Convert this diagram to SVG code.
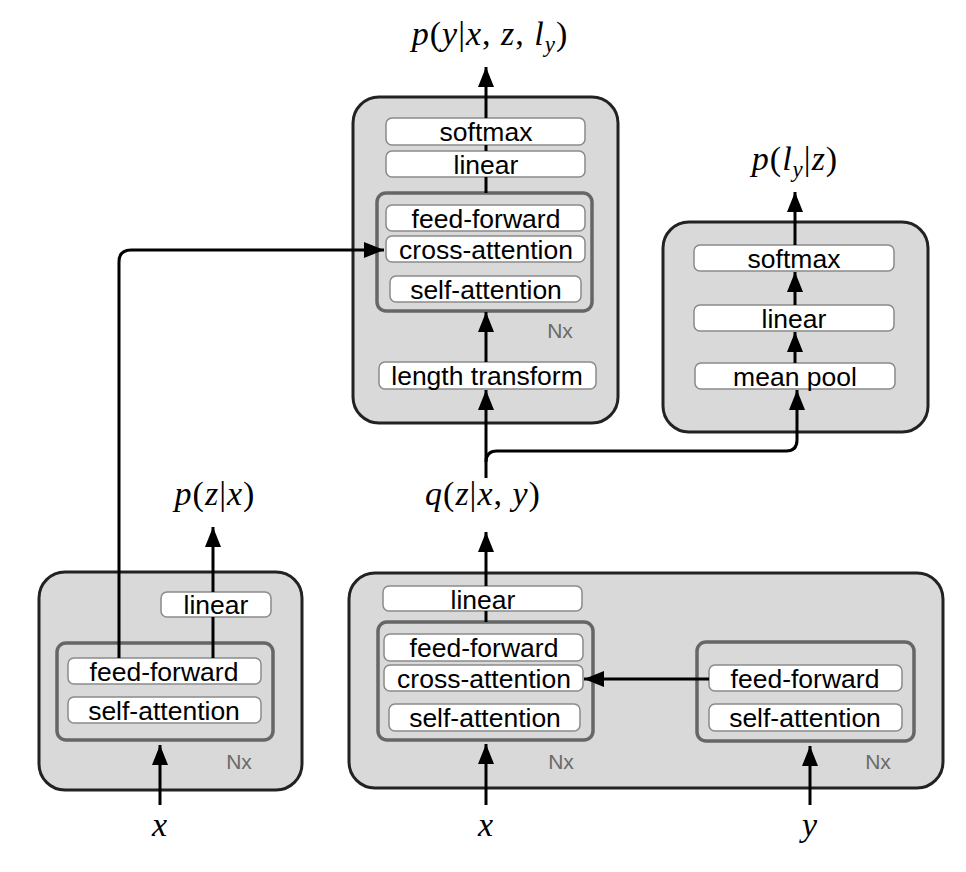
<svg xmlns="http://www.w3.org/2000/svg" width="966" height="872" viewBox="0 0 966 872">
<defs>
<marker id="ah" viewBox="0 0 20 16" refX="20" refY="8" markerWidth="20" markerHeight="16" markerUnits="userSpaceOnUse" orient="auto">
<path d="M0,0 L20,8 L0,16 Z" fill="#000"/>
</marker>
</defs>
<style>
.outer{fill:#d9d9d9;stroke:#222;stroke-width:3}
.nx{fill:none;stroke:#666;stroke-width:3.5}
.blk{fill:#fff;stroke:#8a8a8a;stroke-width:1.5}
.lbl{font-family:"Liberation Sans",Arial,sans-serif;font-size:26.5px;fill:#000;text-anchor:middle}
.nxt{font-family:"Liberation Sans",Arial,sans-serif;font-size:21px;fill:#6a6a6a;text-anchor:middle}
.math{font-family:"Liberation Serif","DejaVu Serif",serif;font-size:34px;fill:#000;text-anchor:middle;letter-spacing:1px}
.it{font-style:italic}
.conn{fill:none;stroke:#000;stroke-width:3}
</style>

<g id="decoder">
<rect class="outer" x="353" y="97" width="265" height="326" rx="26"/>
<rect class="nx" x="377" y="193" width="215" height="118" rx="9"/>
<rect class="blk" x="386" y="118" width="199" height="27" rx="6"/>
<text class="lbl" x="486" y="141">softmax</text>
<rect class="blk" x="386" y="151" width="199" height="26" rx="6"/>
<text class="lbl" x="486" y="174">linear</text>
<rect class="blk" x="386" y="205" width="199" height="26" rx="6"/>
<text class="lbl" x="486" y="228">feed-forward</text>
<rect class="blk" x="386" y="236" width="199" height="26" rx="6"/>
<text class="lbl" x="486" y="259">cross-attention</text>
<rect class="blk" x="390" y="276" width="191" height="26" rx="6"/>
<text class="lbl" x="486" y="299">self-attention</text>
<text class="nxt" x="560" y="338">Nx</text>
<rect class="blk" x="379" y="362" width="217" height="27" rx="6"/>
<text class="lbl" x="487" y="385">length transform</text>
</g>

<g id="length-predictor">
<rect class="outer" x="663" y="222" width="265" height="210" rx="26"/>
<rect class="blk" x="694" y="245" width="200" height="26" rx="6"/>
<text class="lbl" x="794" y="268">softmax</text>
<rect class="blk" x="694" y="305" width="200" height="26" rx="6"/>
<text class="lbl" x="794" y="328">linear</text>
<rect class="blk" x="695" y="363" width="200" height="26" rx="6"/>
<text class="lbl" x="795" y="386">mean pool</text>
</g>

<g id="prior">
<rect class="outer" x="39" y="572" width="263" height="218" rx="26"/>
<rect class="nx" x="57" y="643" width="216" height="97" rx="9"/>
<rect class="blk" x="161" y="592" width="110" height="25" rx="6"/>
<text class="lbl" x="216" y="614">linear</text>
<rect class="blk" x="68" y="658" width="193" height="26" rx="6"/>
<text class="lbl" x="164" y="681">feed-forward</text>
<rect class="blk" x="68" y="697" width="193" height="26" rx="6"/>
<text class="lbl" x="164" y="720">self-attention</text>
<text class="nxt" x="239" y="769">Nx</text>
</g>

<g id="posterior">
<rect class="outer" x="349" y="573" width="594" height="215" rx="26"/>
<rect class="nx" x="378" y="622" width="215" height="118" rx="9"/>
<rect class="blk" x="383" y="586" width="199" height="25" rx="6"/>
<text class="lbl" x="483" y="609">linear</text>
<rect class="blk" x="384" y="634" width="199" height="27" rx="6"/>
<text class="lbl" x="484" y="657">feed-forward</text>
<rect class="blk" x="384" y="665" width="199" height="26" rx="6"/>
<text class="lbl" x="484" y="688">cross-attention</text>
<rect class="blk" x="389" y="704" width="191" height="27" rx="6"/>
<text class="lbl" x="485" y="727">self-attention</text>
<text class="nxt" x="561" y="769">Nx</text>
<rect class="nx" x="697" y="642" width="217" height="99" rx="9"/>
<rect class="blk" x="709" y="665" width="193" height="26" rx="6"/>
<text class="lbl" x="805" y="688">feed-forward</text>
<rect class="blk" x="709" y="704" width="193" height="27" rx="6"/>
<text class="lbl" x="805" y="727">self-attention</text>
<text class="nxt" x="878" y="769">Nx</text>
</g>

<g id="labels">
<text class="math" x="490" y="45"><tspan class="it">p</tspan>(<tspan class="it">y</tspan>|<tspan class="it">x</tspan>, <tspan class="it">z</tspan>, <tspan class="it">l</tspan><tspan class="it" font-size="23" dy="7">y</tspan><tspan dy="-7">)</tspan></text>
<text class="math" x="795" y="170"><tspan class="it">p</tspan>(<tspan class="it">l</tspan><tspan class="it" font-size="23" dy="7">y</tspan><tspan dy="-7">|</tspan><tspan class="it">z</tspan>)</text>
<text class="math" x="215" y="505"><tspan class="it">p</tspan>(<tspan class="it">z</tspan>|<tspan class="it">x</tspan>)</text>
<text class="math" x="483" y="505"><tspan class="it">q</tspan>(<tspan class="it">z</tspan>|<tspan class="it">x</tspan>, <tspan class="it">y</tspan>)</text>
<text class="math it" x="160" y="836" font-size="44">x</text>
<text class="math it" x="486" y="836" font-size="44">x</text>
<text class="math it" x="810" y="836" font-size="44">y</text>
</g>

<g id="connectors">
<path class="conn" d="M486 177 V193 M486 145 V151" />
<path class="conn" d="M486 118 V67" marker-end="url(#ah)"/>
<path class="conn" d="M486 362 V312" marker-end="url(#ah)"/>
<path class="conn" d="M486 478 V390" marker-end="url(#ah)"/>
<path class="conn" d="M486 462 Q486 451 497 451 H786 Q797 451 797 440 V390" marker-end="url(#ah)"/>
<path class="conn" d="M795 245 V192" marker-end="url(#ah)"/>
<path class="conn" d="M795 305 V272" marker-end="url(#ah)"/>
<path class="conn" d="M795 363 V332" marker-end="url(#ah)"/>
<path class="conn" d="M119 658 V262 Q119 250 131 250 H384" marker-end="url(#ah)"/>
<path class="conn" d="M213 658 V617"/>
<path class="conn" d="M213 592 V527" marker-end="url(#ah)"/>
<path class="conn" d="M160 805 V745" marker-end="url(#ah)"/>
<path class="conn" d="M486 611 V622"/>
<path class="conn" d="M486 586 V532" marker-end="url(#ah)"/>
<path class="conn" d="M486 805 V744" marker-end="url(#ah)"/>
<path class="conn" d="M810 805 V746" marker-end="url(#ah)"/>
<path class="conn" d="M709 679 H584" marker-end="url(#ah)"/>
</g>
</svg>
